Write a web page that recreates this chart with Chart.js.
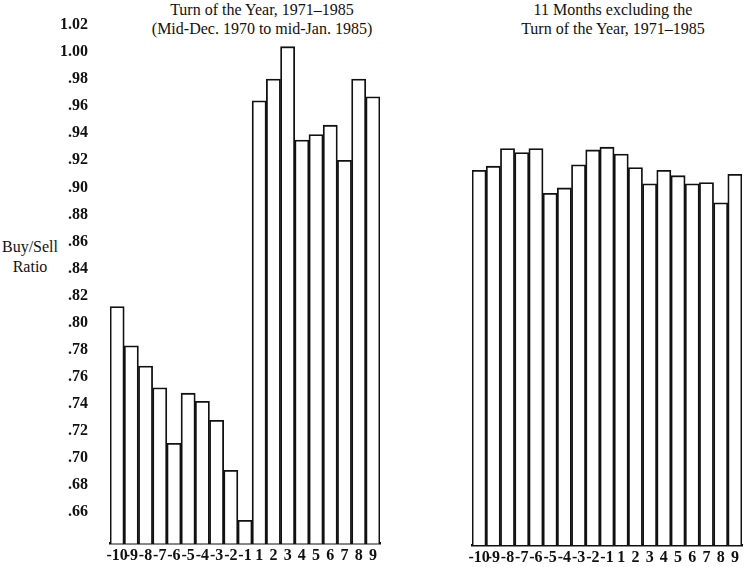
<!DOCTYPE html>
<html lang="en">
<head>
  <meta charset="UTF-8">
  <title>Buy/Sell Ratio - Turn of the Year</title>
  <script src="https://cdn.jsdelivr.net/npm/chart.js"></script>
  <style>
    body { margin: 0; background: #fff; }
    .wrap { position: relative; width: 747px; height: 567px; font-family: "Liberation Serif", serif; color: #111; }
    .panel { position: absolute; top: 0; height: 567px; }
    .title { position: absolute; width: 320px; text-align: center; font-size: 16px; line-height: 19px; }
    .ylab { position: absolute; left: 0; top: 237px; width: 60px; text-align: center; font-size: 16px; line-height: 20px; }
  </style>
</head>
<body>
<div class="wrap">
  <div class="title" style="left:102px; top:0px;">Turn of the Year, 1971&#8211;1985<br>(Mid-Dec. 1970 to mid-Jan. 1985)</div>
  <div class="title" style="left:453px; top:0px;">11 Months excluding the<br>Turn of the Year, 1971&#8211;1985</div>
  <div class="ylab">Buy/Sell<br>Ratio</div>
  <div class="panel" style="left:0; width:384px;"><canvas id="left-chart"></canvas></div>
  <div class="panel" style="left:460px; width:287px;"><canvas id="right-chart"></canvas></div>
</div>

<script>
// days relative to the turn of the year (there is no day 0)
const days = ["-10", "-9", "-8", "-7", "-6", "-5", "-4", "-3", "-2", "-1", "1", "2", "3", "4", "5", "6", "7", "8", "9"];

// buy/sell ratio, turn of the year
const turnOfYear = [0.812, 0.783, 0.768, 0.752, 0.711, 0.748, 0.742, 0.728, 0.691, 0.654,
                    0.964, 0.980, 1.004, 0.935, 0.939, 0.946, 0.920, 0.980, 0.967];

// buy/sell ratio, the other 11 months
const otherMonths = [0.913, 0.916, 0.929, 0.926, 0.929, 0.896, 0.900, 0.917, 0.928, 0.930,
                     0.925, 0.915, 0.903, 0.913, 0.909, 0.903, 0.904, 0.889, 0.910];

const yTicks = [0.66, 0.68, 0.70, 0.72, 0.74, 0.76, 0.78, 0.80, 0.82, 0.84, 0.86,
                0.88, 0.90, 0.92, 0.94, 0.96, 0.98, 1.00, 1.02];

const yMin = 0.637;
const yMax = 1.02;

function fmtTick(v) {
  const s = v.toFixed(2);
  return v < 1 ? s.slice(1) : s;
}

function makeChart(canvasId, values, showY, padLeft, padRight) {
  return new Chart(document.getElementById(canvasId), {
    type: "bar",
    data: {
      labels: days,
      datasets: [{
        data: values,
        backgroundColor: "#ffffff",
        borderColor: "#111111",
        borderWidth: 1.8,
        borderSkipped: false,
        barPercentage: 1,
        categoryPercentage: 1,
      }],
    },
    options: {
      responsive: true,
      maintainAspectRatio: false,
      animation: false,
      layout: { padding: { top: 25, bottom: 0, left: padLeft, right: padRight } },
      plugins: { legend: { display: false }, tooltip: { enabled: false } },
      scales: {
        x: {
          grid: { display: false, drawTicks: false },
          border: { display: true, color: "#111111", width: 2.5 },
          ticks: {
            color: "#111111",
            autoSkip: false,
            maxRotation: 0,
            padding: 3,
            font: { family: "Liberation Serif", size: 16, weight: "bold" },
          },
          afterFit: (s) => { s.height = 22; },
        },
        y: {
          display: showY,
          min: yMin,
          max: yMax,
          grid: { display: false },
          border: { display: false },
          afterBuildTicks: (s) => { s.ticks = yTicks.map((v) => ({ value: v })); },
          afterFit: (s) => { if (showY) s.width = 110; },
          ticks: {
            color: "#111111",
            padding: 14,
            font: { family: "Liberation Serif", size: 16, weight: "bold" },
            callback: (v) => fmtTick(v),
          },
        },
      },
    },
  });
}

makeChart("left-chart", turnOfYear, true, 0, 4);
makeChart("right-chart", otherMonths, false, 12, 5);
</script>
</body>
</html>
